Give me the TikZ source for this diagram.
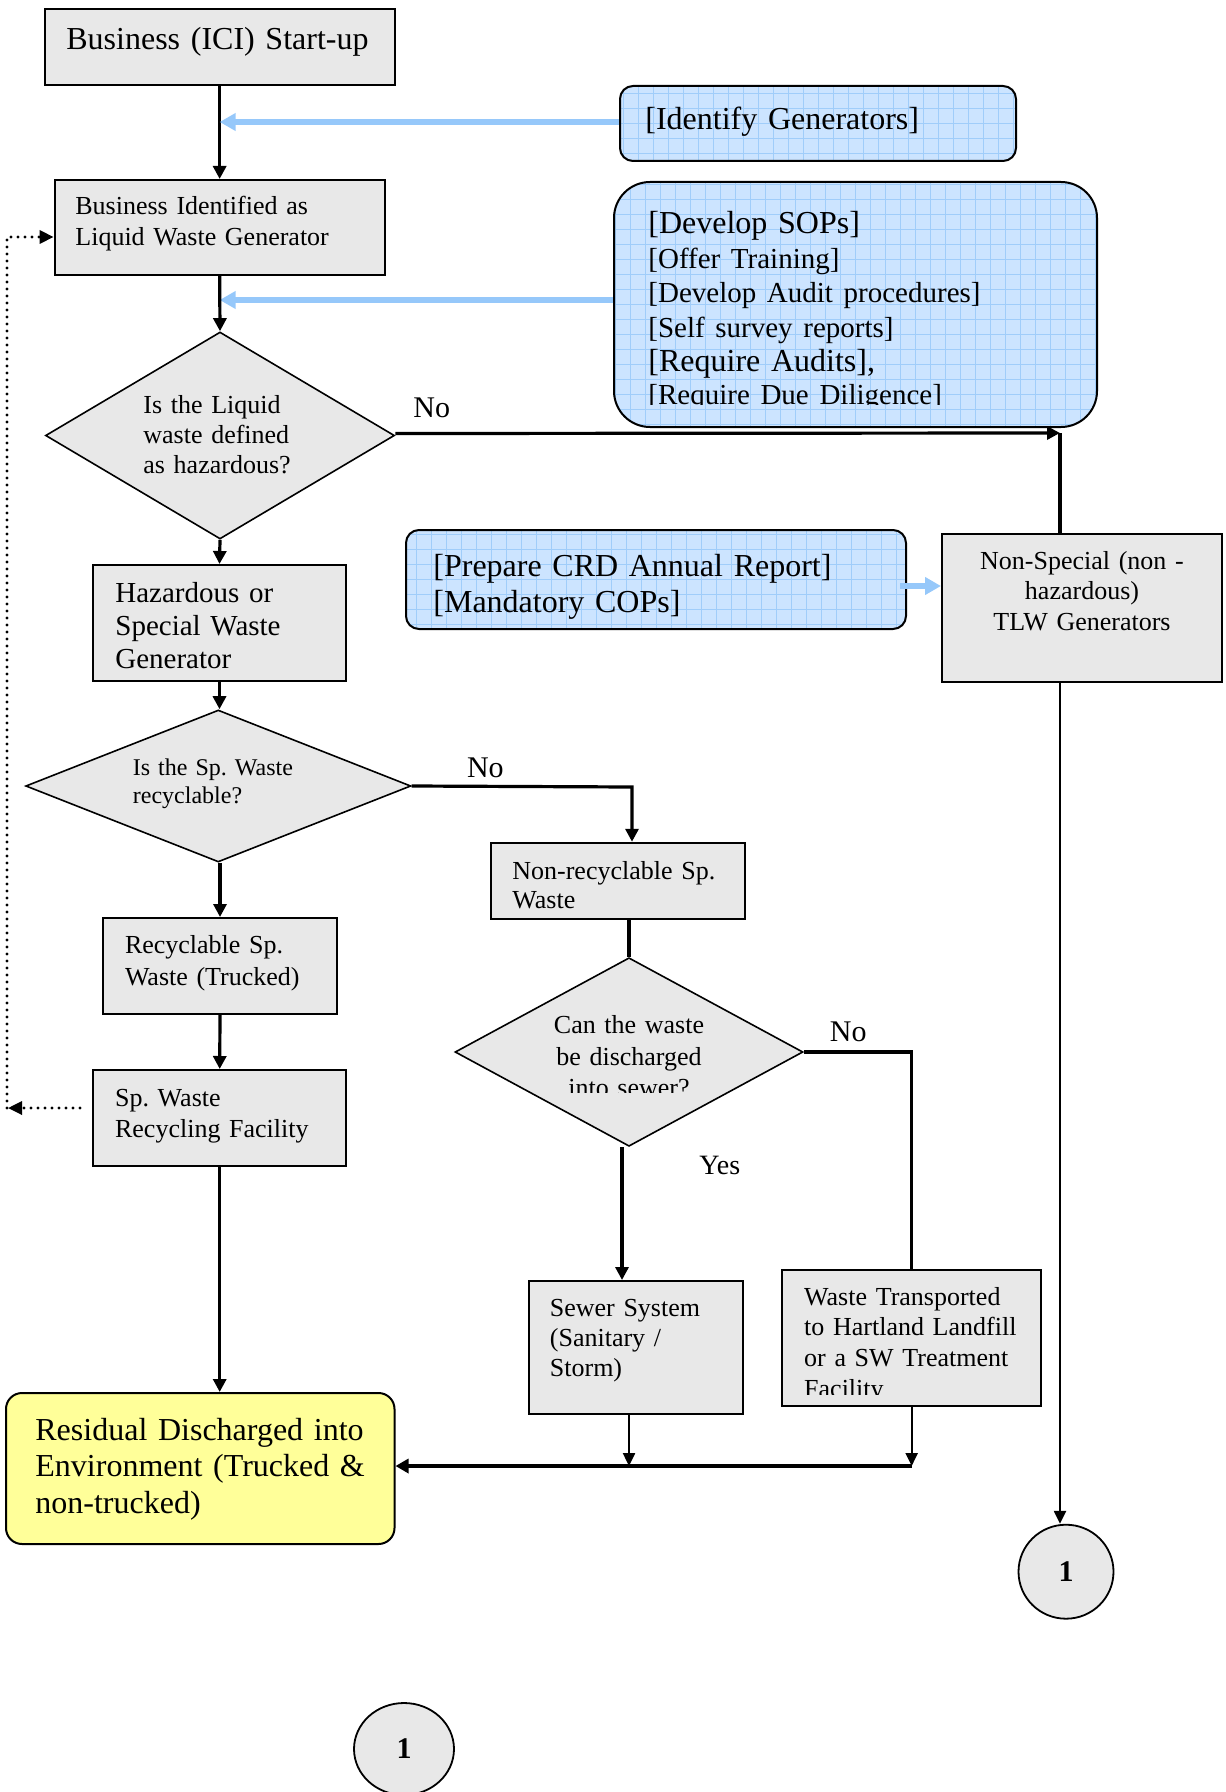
\documentclass[tikz,border=0pt]{standalone}
\usepackage{fontspec}
\setmainfont{Liberation Serif}
\usetikzlibrary{arrows.meta,shapes.geometric}
\definecolor{boxgray}{RGB}{232,232,232}
\definecolor{lblue}{RGB}{204,228,255}
\definecolor{gridblue}{RGB}{160,205,250}
\definecolor{ablue}{RGB}{150,200,250}
\definecolor{lyellow}{RGB}{255,255,153}
\newcommand\fsz[2]{\fontsize{#1pt}{#2pt}\selectfont}
\begin{document}
\frenchspacing
\begin{tikzpicture}[x=0.5pt,y=-0.5pt,
  box/.style={draw, line width=1pt, fill=boxgray, inner sep=0pt, rectangle},
  bluebox/.style={draw, line width=1pt, fill=lblue, inner sep=0pt, rectangle,
    path picture={\draw[gridblue, line width=0.4pt] (path picture bounding box.south west) grid[step=7.5pt] (path picture bounding box.north east);}},
  dia/.style={diamond, draw, line width=0.8pt, fill=boxgray, inner sep=0pt},
  circ/.style={ellipse, draw, line width=0.9pt, fill=boxgray, inner sep=0pt, font=\bfseries\fsz{15}{18}},
  tl/.style={inner sep=0pt, anchor=base west, align=left, text width=260pt},
  tc/.style={inner sep=0pt, anchor=base, align=center, text width=200pt},
  line/.style={line width=1.6pt},
  arr/.style={line width=1.6pt, -{Triangle[length=6.5pt,width=6.5pt]}},
  thinarr/.style={line width=1.2pt, -{Triangle[length=6.5pt,width=6pt]}},
  thickarr/.style={line width=2.2pt, -{Triangle[length=6.5pt,width=7pt]}},
  barr/.style={line width=2.6pt, ablue, -{Triangle[length=8pt,width=8.5pt]}},
  dotarr/.style={line width=1.6pt, dash pattern=on 0pt off 3.5pt, line cap=round, -{Triangle[length=7pt,width=6.5pt]}}
]
\useasboundingbox (0,0) rectangle (1225,1792);

% boxes
\node[box, minimum width=175pt, minimum height=38pt] (start) at (219.65,47) {};
\node[box, minimum width=165pt, minimum height=47.5pt] (box2) at (219.65,227.5) {};
\node[dia, minimum width=174.5pt, minimum height=103.5pt] (d1) at (220,435.5) {};
\node[box, minimum width=126.5pt, minimum height=58pt] (box3) at (219.5,623) {};
\node[dia, minimum width=192.6pt, minimum height=76pt] (d2) at (218.3,786) {};
\node[box, minimum width=117pt, minimum height=48pt] (recyc) at (220,966) {};
\node[box, minimum width=126.7pt, minimum height=47.8pt] (fac) at (219.7,1117.8) {};
\node[box, minimum width=127pt, minimum height=38.25pt] (nonrec) at (617.5,881) {};
\node[dia, minimum width=174pt, minimum height=94.3pt] (d3) at (629,1052) {};
\node[box, minimum width=106.75pt, minimum height=66.25pt] (sewer) at (635.75,1347.25) {};
\node[box, minimum width=129.3pt, minimum height=67.75pt] (waste) at (911.7,1337.75) {};
\node[box, minimum width=140pt, minimum height=74pt] (ns) at (1082,608) {};
\node[draw, line width=1pt, fill=lyellow, rounded corners=8pt, inner sep=0pt, minimum width=194.25pt, minimum height=75.5pt] (res) at (200.25,1468.5) {};
\node[bluebox, rounded corners=6.5pt, minimum width=198pt, minimum height=37.5pt] (ident) at (818,123.5) {};
\node[bluebox, rounded corners=18pt, minimum width=241.5pt, minimum height=122.5pt] (big) at (855.5,304.5) {};
\node[bluebox, rounded corners=6.5pt, minimum width=250pt, minimum height=49.5pt] (prep) at (656,579.5) {};
\node[circ, minimum width=47.5pt, minimum height=47pt] (c1) at (1066,1571.7) {1};
\node[circ, minimum width=50pt, minimum height=46pt] (c2) at (404,1749) {1};

% texts
\node[tl, font=\fsz{16}{18}] (tstart) at (66,50) {Business (ICI) Start-up};
\node[tl, font=\fsz{16}{18}] (tident) at (645,130) {[Identify Generators]};
\begin{scope}
\clip (600,170) rectangle (1100,404);
\node[tl, font=\fsz{16}{17.25}] (tbig) at (648,234) {[Develop SOPs]\\{\fsz{14.5}{17.25}[Offer Training]}\\{\fsz{14.5}{17.25}[Develop Audit procedures]}\\{\fsz{14.5}{17.25}[Self survey reports]}\\{[Require Audits],}\\[-0.75pt]{\fsz{14.5}{17.25}[Require Due Diligence]}};
\end{scope}
\node[tl, font=\fsz{13}{15.5}] (tbox2) at (75,215) {Business Identified as\\Liquid Waste Generator};
\node[tl, font=\fsz{13}{15}] (td1) at (143,413) {Is the Liquid\\waste defined\\as hazardous?};
\node[tl, font=\fsz{15}{18}] (tno1) at (413,417) {No};
\node[tl, font=\fsz{14.5}{16.5}] (tbox3) at (115,602) {Hazardous or\\Special Waste\\Generator};
\node[tl, font=\fsz{16}{18}] (tprep) at (433,576) {[Prepare CRD Annual Report]\\{[Mandatory COPs]}};
\node[tc, font=\fsz{13}{15.25}] (tns) at (1082,569) {Non-Special (non -\\hazardous)\\TLW Generators};
\node[tl, font=\fsz{12}{14}] (td2) at (132.5,775) {Is the Sp. Waste\\recyclable?};
\node[tl, font=\fsz{15}{18}] (tno2) at (466.6,777) {No};
\node[tl, font=\fsz{13}{14.5}] (tnonrec) at (512,879) {Non-recyclable Sp.\\Waste};
\node[tl, font=\fsz{13}{16}] (trecyc) at (124.6,953) {Recyclable Sp.\\Waste (Trucked)};
\node[tl, font=\fsz{13}{15.5}] (tfac) at (114.7,1106) {Sp. Waste\\Recycling Facility};
\begin{scope}
\clip (450,950) rectangle (810,1092);
\node[tc, font=\fsz{13}{15.75}] (td3) at (629,1033.5) {Can the waste\\be discharged\\into sewer?};
\end{scope}
\node[tl, font=\fsz{15}{18}] (tno3) at (829.5,1041) {No};
\node[tl, font=\fsz{14}{18}] (tyes) at (699,1174) {Yes};
\node[tl, font=\fsz{13}{15}] (tsewer) at (549.5,1316.7) {Sewer System\\(Sanitary /\\Storm)};
\begin{scope}
\clip (785,1272) rectangle (1039,1394);
\node[tl, font=\fsz{13}{15.4}] (twaste) at (803.8,1305) {Waste Transported\\to Hartland Landfill\\or a SW Treatment\\Facility};
\end{scope}
\node[tl, font=\fsz{16}{18.25}] (tres) at (35,1440) {Residual Discharged into\\Environment (Trucked \&\\non-trucked)};

% coordinates
\coordinate (nsj) at (1060,433);
\coordinate (d2no) at (632,787);
\coordinate (d3no) at (d3.east -| waste.north);
\coordinate (j1) at (629,1466);
\coordinate (j2) at (waste.south |- j1);
\coordinate (dl) at (8,1108);
\coordinate (dtop) at (7,237);

% connectors
\draw[arr] (start.south) -- (box2.north);
\draw[barr] ([yshift=0.75pt]ident.west) -- ([yshift=0.75pt]ident.west -| start.south);
\draw[barr] ([yshift=2.25pt]big.west) -- ([yshift=2.25pt]big.west -| box2.south);
\draw[arr] (box2.south) -- (d1.north);
\draw[arr] ([yshift=1pt]d1.east) -- (nsj);
\draw[line] (nsj) -- (nsj |- ns.north);
\draw[thinarr] (nsj |- ns.south) -- (nsj |- c1.north);
\draw[barr] ([xshift=-3.5pt,yshift=-3.25pt]prep.east) -- ([yshift=-3.25pt]prep.east -| ns.west);
\draw[arr] (d1.south) -- (box3.north);
\draw[arr] (box3.south) -- (box3.south |- d2.north);
\draw[arr] (recyc.north |- d2.south) -- (recyc.north);
\draw[arr] (recyc.south) -- (fac.north);
\draw[arr] (fac.south) -- (fac.south |- res.north);
\draw[arr] (d2.east) -- (d2no) -- (d2no |- nonrec.north);
\draw[line] (nonrec.south -| d3.north) -- (d3.north);
\draw[line] (d3.east) -- (d3no) -- (waste.north);
\draw[arr] ([xshift=-3.5pt]d3.south) -- ([xshift=-3.5pt]d3.south |- sewer.north);
\draw[thinarr] (sewer.south -| j1) -- (j1);
\draw[thinarr] (waste.south) -- (j2);
\draw[thickarr] (j2) -- (j1 -| res.east);
\draw[dotarr] ([xshift=-6pt,yshift=4.9pt]fac.west) -- (dl);
\draw[dotarr] (dtop |- dl) -- (dtop) -- ([yshift=-4.75pt]box2.west);
\end{tikzpicture}
\end{document}
